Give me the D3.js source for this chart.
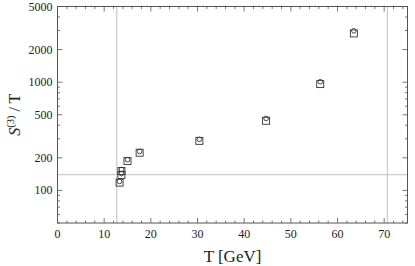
<!DOCTYPE html>
<html>
<head>
<meta charset="utf-8">
<script src="https://cdn.jsdelivr.net/npm/d3@7"></script>
<style>
  body { margin: 0; background: #fff; }
  svg { display: block; font-family: "Liberation Serif", "DejaVu Serif", serif; }
</style>
</head>
<body>
<div id="chart"></div>
<script>
// data
const temps = [13.3, 13.7, 13.7, 15.0, 17.6, 30.4, 44.7, 56.3, 63.5];
const squareVals = [118, 139, 151, 187, 223, 287, 440, 960, 2820];
const circleVals = [121, 143, 156, 192, 229, 296, 462, 1010, 2980];
const xTicks = [0, 10, 20, 30, 40, 50, 60, 70];
const yTicks = [100, 200, 500, 1000, 2000, 5000];
const vLines = [12.7, 70.7];
const hLines = [140];

const width = 415, height = 266;
const margin = {left: 57.5, right: 7.5, top: 6.5, bottom: 43};

const svg = d3.select("#chart").append("svg")
  .attr("width", width)
  .attr("height", height);

const x = d3.scaleLinear().domain([0, 75]).range([margin.left, width - margin.right]);
const y = d3.scaleLog().domain([50, 5000]).range([height - margin.bottom, margin.top]);

const [x0, x1] = x.range();
const [y0, y1] = y.range();

// gray reference lines
svg.append("g")
  .selectAll("line")
  .data(vLines)
  .join("line")
  .attr("x1", d => x(d)).attr("x2", d => x(d))
  .attr("y1", y0).attr("y2", y1)
  .attr("stroke", "#cdcdcd")
  .attr("stroke-width", 1.3);

svg.append("g")
  .selectAll("line")
  .data(hLines)
  .join("line")
  .attr("x1", x0).attr("x2", x1)
  .attr("y1", d => y(d)).attr("y2", d => y(d))
  .attr("stroke", "#cdcdcd")
  .attr("stroke-width", 1.3);

// frame
const frameColor = "#555";
svg.append("rect")
  .attr("x", x0).attr("y", y1)
  .attr("width", x1 - x0).attr("height", y0 - y1)
  .attr("fill", "none")
  .attr("stroke", frameColor)
  .attr("stroke-width", 1);

// ticks on all four sides, pointing inward
const xMinor = d3.range(0, 76, 2).filter(v => v % 10 !== 0);
const yMinor = [];
[10, 100, 1000].forEach(dec => {
  for (let k = 2; k <= 9; k++) {
    const v = k * dec;
    if (v >= 50 && v <= 5000 && !yTicks.includes(v)) yMinor.push(v);
  }
});

const tickG = svg.append("g").attr("stroke", frameColor).attr("stroke-width", 0.8);
const addXTicks = (vals, len) => {
  vals.forEach(v => {
    tickG.append("line").attr("x1", x(v)).attr("x2", x(v)).attr("y1", y0).attr("y2", y0 - len);
    tickG.append("line").attr("x1", x(v)).attr("x2", x(v)).attr("y1", y1).attr("y2", y1 + len);
  });
};
const addYTicks = (vals, len) => {
  vals.forEach(v => {
    tickG.append("line").attr("x1", x0).attr("x2", x0 + len).attr("y1", y(v)).attr("y2", y(v));
    tickG.append("line").attr("x1", x1).attr("x2", x1 - len).attr("y1", y(v)).attr("y2", y(v));
  });
};
addXTicks(xTicks, 5);
addXTicks(xMinor, 2.5);
addYTicks(yTicks, 5);
addYTicks(yMinor, 2.5);

// tick labels
svg.append("g")
  .selectAll("text")
  .data(xTicks)
  .join("text")
  .attr("x", d => x(d))
  .attr("y", y0 + 15)
  .attr("text-anchor", "middle")
  .attr("font-size", 12)
  .attr("fill", "#222")
  .text(d => d);

svg.append("g")
  .selectAll("text")
  .data(yTicks)
  .join("text")
  .attr("x", x0 - 5)
  .attr("y", d => y(d) + 4)
  .attr("text-anchor", "end")
  .attr("font-size", 12)
  .attr("fill", "#222")
  .text(d => d);

// axis labels
svg.append("text")
  .attr("x", (x0 + x1) / 2)
  .attr("y", 262)
  .attr("text-anchor", "middle")
  .attr("font-size", 17)
  .attr("fill", "#222")
  .text("T [GeV]");

const yl = svg.append("text")
  .attr("transform", `translate(20,${(y0 + y1) / 2}) rotate(-90)`)
  .attr("text-anchor", "middle")
  .attr("font-size", 16)
  .attr("fill", "#222");
yl.append("tspan").attr("font-style", "italic").text("S");
yl.append("tspan").attr("font-size", 10.5).attr("dy", -6).text("(3)");
yl.append("tspan").attr("dy", 6).text(" / T");

// markers
const pts = temps.map((t, i) => ({t, s: squareVals[i], c: circleVals[i]}));
const sq = 7;
svg.append("g")
  .selectAll("rect")
  .data(pts)
  .join("rect")
  .attr("x", d => x(d.t) - sq / 2)
  .attr("y", d => y(d.s) - sq / 2)
  .attr("width", sq).attr("height", sq)
  .attr("fill", "none")
  .attr("stroke", "#333")
  .attr("stroke-width", 0.9);

svg.append("g")
  .selectAll("circle")
  .data(pts)
  .join("circle")
  .attr("cx", d => x(d.t))
  .attr("cy", d => y(d.c))
  .attr("r", 2.3)
  .attr("fill", "none")
  .attr("stroke", "#333")
  .attr("stroke-width", 0.9);
</script>
</body>
</html>
